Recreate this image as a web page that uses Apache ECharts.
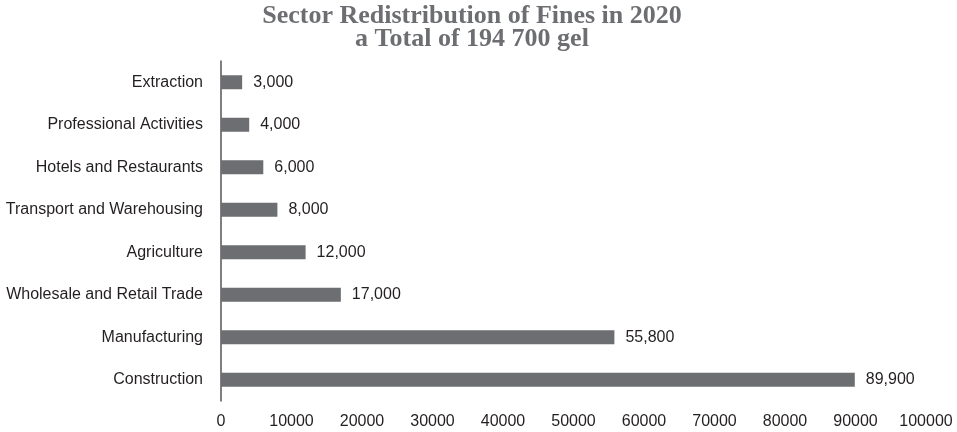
<!DOCTYPE html>
<html><head><meta charset="utf-8">
<script src="https://cdn.jsdelivr.net/npm/echarts@6/dist/echarts.min.js"></script>
<style>html,body{margin:0;padding:0;background:#fff}#c{width:957px;height:432px}</style>
</head><body><div id="c"></div>
<script>
const categories = ["Construction","Manufacturing","Wholesale and Retail Trade","Agriculture","Transport and Warehousing","Hotels and Restaurants","Professional Activities","Extraction"];
const values = [89900,55800,17000,12000,8000,6000,4000,3000];
const titleLines = ["Sector Redistribution of Fines in 2020","a Total of 194 700 gel"];
const chart = echarts.init(document.getElementById('c'));
chart.setOption({
  animation:false,
  title:{text:titleLines.join('\n'),left:467,textAlign:'center',top:0,
    textStyle:{fontFamily:'Liberation Serif, serif',fontWeight:'bold',fontSize:26,color:'#6d6e71',lineHeight:23}},
  grid:{left:221,right:31,top:61,bottom:31},
  xAxis:{type:'value',min:0,max:100000,interval:10000,
    axisLine:{show:false},axisTick:{show:false},splitLine:{show:false},
    axisLabel:{color:'#231f20',fontFamily:'Liberation Sans, Arial, sans-serif',fontSize:16,margin:13,
      formatter:v=>String(v)}},
  yAxis:{type:'category',data:categories,
    axisLine:{show:true,lineStyle:{color:'#555',width:1.5}},axisTick:{show:false},
    axisLabel:{color:'#231f20',fontFamily:'Liberation Sans, Arial, sans-serif',fontSize:16,margin:18}},
  series:[{type:'bar',data:values,barWidth:14,itemStyle:{color:'#6d6e71'},
    label:{show:true,position:'right',distance:11,color:'#231f20',fontFamily:'Liberation Sans, Arial, sans-serif',fontSize:16,
      formatter:p=>p.value.toLocaleString('en-US')}}]
});
</script></body></html>
